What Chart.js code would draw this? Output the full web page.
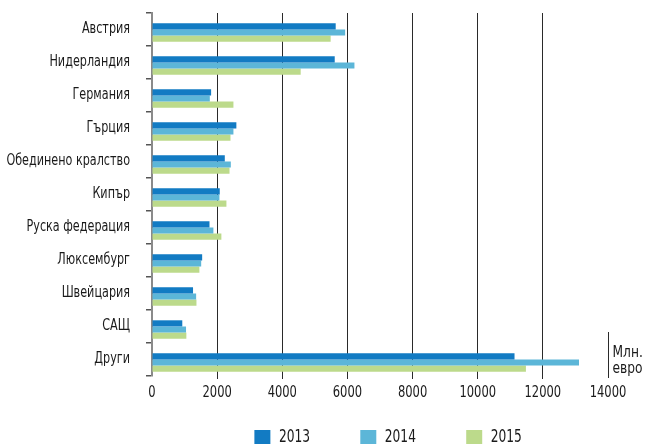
<!DOCTYPE html>
<html>
<head>
<meta charset="utf-8">
<script src="https://cdn.jsdelivr.net/npm/chart.js@4"></script>
<style>
  html, body { margin: 0; padding: 0; background: #fff; }
  #wrap { width: 646px; height: 444px; }
</style>
</head>
<body>
<div id="wrap"><canvas id="c" width="646" height="444"></canvas></div>
<script>
const categories = ['Австрия', 'Нидерландия', 'Германия', 'Гърция', 'Обединено кралство', 'Кипър', 'Руска федерация', 'Люксембург', 'Швейцария', 'САЩ', 'Други'];
const seriesNames = ['2013', '2014', '2015'];
const values2013 = [5640, 5610, 1815, 2590, 2235, 2080, 1765, 1540, 1260, 930, 11130];
const values2014 = [5930, 6215, 1775, 2500, 2420, 2070, 1885, 1510, 1355, 1045, 13110];
const values2015 = [5485, 4565, 2500, 2410, 2380, 2285, 2130, 1455, 1365, 1055, 11480];
const xTicks = [0, 2000, 4000, 6000, 8000, 10000, 12000, 14000];
const unitLines = ['Млн.', 'евро'];

const FONT = "'Liberation Sans Narrow', 'DejaVu Sans Condensed', 'Arial Narrow', sans-serif";

// draw text condensed horizontally (anchor kept at the text's own x)
function withCondensed(ctx, factor, fn) {
  const orig = ctx.fillText;
  ctx.fillText = function (t, x, y, mw) {
    this.save();
    this.translate(x, y);
    this.scale(factor, 1);
    orig.call(this, t, 0, 0);
    this.restore();
  };
  try { fn(); } finally { ctx.fillText = orig; }
}

function patchScale(scale, factor) {
  if (scale._condPatched) return;
  const origDraw = scale.drawLabels;
  scale.drawLabels = function (area) {
    withCondensed(this.ctx, factor, () => origDraw.call(this, area));
  };
  scale._condPatched = true;
}

const extras = {
  id: 'extras',
  beforeInit(chart) {
    const lg = chart.legend;
    const origFit = lg.fit;
    lg.fit = function () {
      origFit.call(this);
      this.height = 30;
    };
    const origDraw = lg.draw;
    lg.draw = function () {
      withCondensed(this.ctx, 0.8, () => origDraw.call(this));
    };
  },
  afterLayout(chart) {
    const lg = chart.legend;
    lg.left = 136; lg.right = 648;
    lg.width = lg.right - lg.left;
    const pad = lg.options.labels.padding;
    lg.top = 429 - pad;
  },
  beforeDatasetsDraw(chart) {
    chart.ctx.save();
    chart.ctx.translate(0, 3);
  },
  afterDatasetsDraw(chart) {
    chart.ctx.restore();
  },
  afterDraw(chart) {
    const ctx = chart.ctx;
    const xs = chart.scales.x;
    const x = Math.round(xs.getPixelForValue(14000)) + 0.5;
    ctx.save();
    ctx.strokeStyle = '#2a2a2a';
    ctx.lineWidth = 1;
    ctx.beginPath();
    ctx.moveTo(x, 332);
    ctx.lineTo(x, 378);
    ctx.stroke();
    ctx.fillStyle = '#1a1a1a';
    ctx.font = '16px ' + FONT;
    ctx.textAlign = 'left';
    ctx.textBaseline = 'alphabetic';
    withCondensed(ctx, 0.85, () => {
      ctx.fillText(unitLines[0], x + 4, 357);
      ctx.fillText(unitLines[1], x + 4, 373);
    });
    ctx.restore();
  }
};

new Chart(document.getElementById('c'), {
  type: 'bar',
  data: {
    labels: categories,
    datasets: [
      { label: seriesNames[0], data: values2013, backgroundColor: '#127bc3' },
      { label: seriesNames[1], data: values2014, backgroundColor: '#5cb6d8' },
      { label: seriesNames[2], data: values2015, backgroundColor: '#bcda8b' }
    ]
  },
  options: {
    indexAxis: 'y',
    responsive: false,
    animation: false,
    devicePixelRatio: 1,
    layout: { padding: { left: 0, right: 38, top: 13, bottom: 0 } },
    datasets: { bar: { categoryPercentage: 0.557, barPercentage: 1, borderWidth: 0 } },
    scales: {
      x: {
        min: 0, max: 14000,
        afterBuildTicks(scale) { scale.ticks = xTicks.map(v => ({ value: v })); },
        afterFit(scale) { scale.height = 38; patchScale(scale, 0.8); },
        border: { display: false },
        grid: {
          color: c => (c.tick && (c.tick.value === 0 || c.tick.value === 14000)) ? 'rgba(0,0,0,0)' : '#2a2a2a',
          lineWidth: 1,
          tickLength: 3,
          drawTicks: true
        },
        ticks: {
          color: '#1a1a1a',
          font: { family: FONT, size: 16 },
          padding: 4,
          maxRotation: 0,
          autoSkip: false,
          callback: v => String(v)
        }
      },
      y: {
        afterFit(scale) {
          scale.width = 152;
          scale.paddingTop = 0;
          scale.paddingBottom = 0;
          patchScale(scale, 0.83);
        },
        border: { display: true, color: '#8a8a8a', width: 2 },
        grid: {
          offset: true,
          drawOnChartArea: false,
          drawTicks: true,
          tickLength: 6,
          color: '#555',
          lineWidth: 1.5
        },
        ticks: {
          color: '#1a1a1a',
          font: { family: FONT, size: 15 },
          padding: 16,
          autoSkip: false
        }
      }
    },
    plugins: {
      legend: {
        position: 'bottom',
        labels: {
          boxWidth: 16,
          boxHeight: 15,
          padding: 42.5,
          color: '#1a1a1a',
          font: { family: FONT, size: 17 }
        }
      },
      tooltip: { enabled: false }
    }
  },
  plugins: [extras]
});
</script>
</body>
</html>
